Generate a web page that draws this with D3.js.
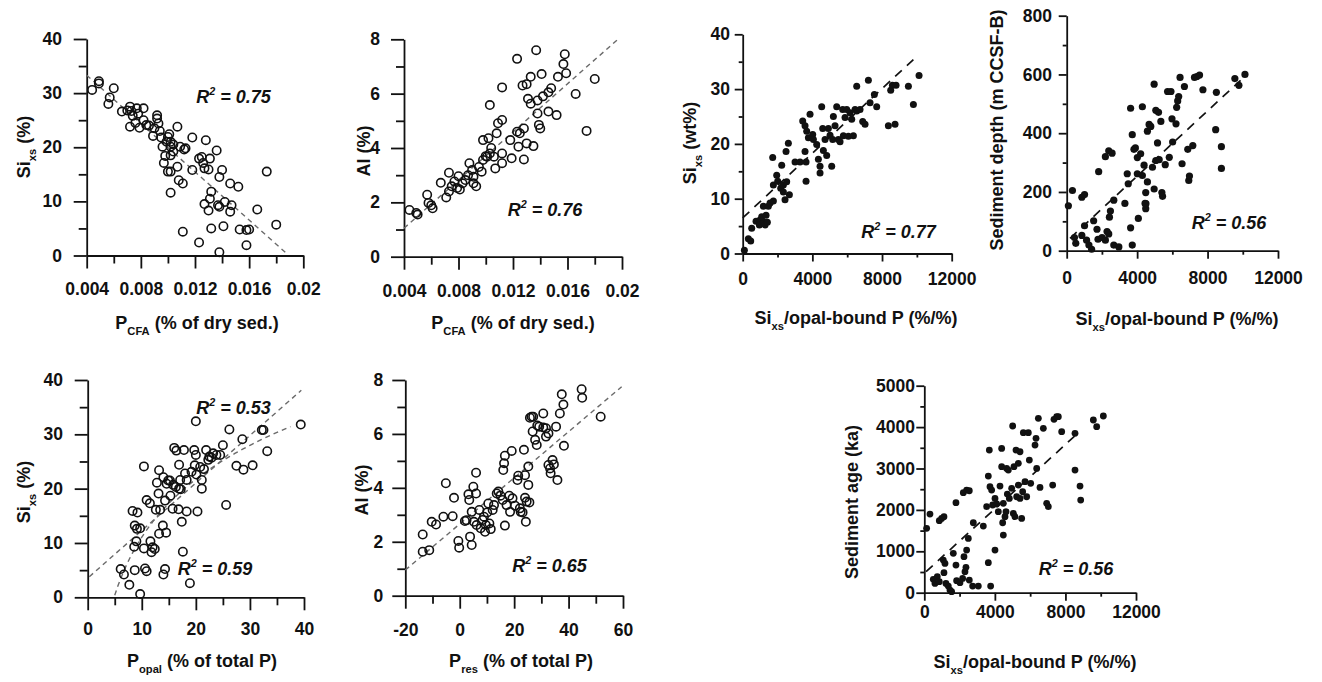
<!DOCTYPE html>
<html><head><meta charset="utf-8">
<script src="https://cdn.jsdelivr.net/npm/d3@7"></script>
<style>
body{margin:0;background:#fff}
svg{display:block}
text{font-family:"Liberation Sans",Arial,sans-serif;font-weight:bold;fill:#111}
</style>
</head><body>
<svg id="c" width="1322" height="682"></svg>
<script>
// ---------- DATA ----------
const p1Points=[[0.0044,30.6],[0.0049,32.2],[0.0049,31.8],[0.0060,30.9],[0.0057,29.2],[0.0056,28.0],[0.0066,26.6],[0.0072,27.5],[0.0073,26.7],[0.0074,25.8],[0.0072,23.8],[0.0077,27.2],[0.0078,26.2],[0.0079,23.6],[0.0082,27.2],[0.0082,25.0],[0.0084,24.1],[0.0092,25.9],[0.0092,25.3],[0.0093,24.4],[0.0090,23.5],[0.0089,22.1],[0.0095,21.8],[0.0096,20.1],[0.0097,17.1],[0.0100,21.9],[0.0102,21.0],[0.0102,20.1],[0.0102,18.5],[0.0100,15.5],[0.0102,15.5],[0.0107,23.8],[0.0107,16.4],[0.0109,20.1],[0.0113,19.8],[0.0108,13.9],[0.0111,13.3],[0.0102,11.6],[0.0118,21.8],[0.0118,15.8],[0.0123,17.9],[0.0125,18.2],[0.0127,16.1],[0.0128,21.3],[0.0131,17.9],[0.0136,19.4],[0.0140,15.8],[0.0138,14.5],[0.0146,13.3],[0.0152,12.7],[0.0173,15.5],[0.0132,11.8],[0.0131,10.5],[0.0127,9.5],[0.0130,8.3],[0.0137,9.3],[0.0142,9.9],[0.0147,9.3],[0.0146,8.1],[0.0166,8.5],[0.0132,5.0],[0.0141,5.4],[0.0153,4.8],[0.0158,4.7],[0.0160,4.8],[0.0180,5.7],[0.0111,4.4],[0.0123,2.4],[0.0158,1.9],[0.0138,0.6],[0.0099,21.0],[0.0104,19.2],[0.0098,18.4],[0.0070,26.8],[0.0076,24.5],[0.0086,24.0],[0.0094,23.0],[0.0101,22.4],[0.0104,20.5],[0.0112,19.6],[0.0126,17.1],[0.0130,15.9],[0.0138,9.0]];
const p2Points=[[0.0044,1.72],[0.0049,1.61],[0.0050,1.55],[0.0057,2.28],[0.0058,1.98],[0.0060,1.89],[0.0061,1.78],[0.0067,2.72],[0.0071,2.18],[0.0073,3.09],[0.0073,2.40],[0.0075,2.59],[0.0077,2.77],[0.0080,2.96],[0.0081,2.47],[0.0079,2.53],[0.0083,2.70],[0.0085,2.82],[0.0088,3.44],[0.0090,3.19],[0.0091,2.94],[0.0091,2.70],[0.0093,2.59],[0.0097,3.13],[0.0098,3.56],[0.0098,4.29],[0.0102,4.36],[0.0103,5.58],[0.0101,3.68],[0.0103,3.80],[0.0104,4.00],[0.0106,3.68],[0.0107,3.25],[0.0108,4.54],[0.0109,4.91],[0.0112,6.23],[0.0112,5.03],[0.0112,3.80],[0.0112,3.44],[0.0119,3.62],[0.0118,4.29],[0.0123,4.60],[0.0123,7.28],[0.0124,4.05],[0.0125,4.54],[0.0128,4.72],[0.0128,3.58],[0.0127,6.30],[0.0130,6.35],[0.0130,4.17],[0.0131,5.81],[0.0133,6.62],[0.0133,5.63],[0.0135,4.07],[0.0137,7.60],[0.0138,5.75],[0.0138,5.27],[0.0139,4.85],[0.0140,4.72],[0.0141,6.72],[0.0142,5.90],[0.0146,5.34],[0.0146,6.05],[0.0148,6.20],[0.0152,5.21],[0.0153,6.62],[0.0157,7.09],[0.0158,7.45],[0.0159,6.75],[0.0166,5.99],[0.0174,4.63],[0.0180,6.54],[0.0095,3.30],[0.0100,3.70],[0.0087,3.00]];
const p3Points=[[96,0.6],[325,2.7],[460,2.3],[517,4.6],[766,5.9],[995,6.1],[957,5.2],[1187,5.8],[1091,6.7],[1187,8.6],[1474,8.6],[1340,7.0],[1282,5.2],[1416,5.7],[1570,9.2],[1761,9.6],[1761,12.5],[1723,17.5],[1953,14.3],[2010,13.2],[2240,16.1],[2182,11.9],[2335,12.5],[2335,11.2],[2430,9.8],[2488,18.6],[2622,20.1],[2526,13.1],[2680,10.7],[3005,16.7],[3292,16.7],[3637,16.7],[3637,13.2],[3445,24.2],[3579,23.3],[3675,22.3],[3866,25.4],[3771,21.1],[3579,18.6],[4020,21.7],[4058,20.8],[4249,19.9],[4345,17.2],[4441,14.7],[4441,15.9],[4536,26.8],[4594,22.8],[4632,18.8],[4728,20.8],[4823,17.9],[4919,22.8],[5015,21.6],[5110,15.9],[5168,20.8],[5206,25.0],[5302,23.3],[5398,26.8],[5493,20.8],[5589,20.4],[5742,26.3],[5780,21.5],[5876,24.8],[5972,26.3],[6068,21.4],[6163,25.7],[6259,24.5],[6355,21.5],[6451,26.3],[6546,30.5],[6546,26.0],[6737,26.3],[6890,24.1],[7024,23.6],[7216,31.6],[7311,27.5],[7560,29.0],[7694,26.8],[8364,23.3],[8498,29.8],[8594,30.7],[8747,23.6],[8804,30.7],[9513,30.5],[9800,27.2],[10125,32.5]];
const p4Points=[[95,153],[325,205],[860,182],[1013,191],[440,45],[516,25],[860,52],[1013,85],[1128,36],[1262,19],[1415,5],[1530,102],[1720,73],[1778,39],[1815,269],[2006,45],[2197,36],[2292,65],[2388,57],[2426,114],[2483,135],[2197,320],[2388,340],[2578,332],[2674,172],[2674,19],[2961,13],[3305,161],[3438,262],[3495,228],[3629,78],[3629,485],[3724,395],[3724,19],[3820,345],[4011,317],[4011,262],[4068,110],[4297,490],[4297,256],[4393,291],[4450,161],[4488,198],[4488,143],[4584,234],[4584,407],[4679,430],[4775,423],[4870,284],[4966,210],[4966,567],[5061,307],[5061,478],[5157,367],[5214,471],[5252,310],[5348,440],[5405,198],[5443,185],[5596,293],[5730,542],[5826,318],[5921,542],[5979,449],[6016,370],[6207,432],[6245,488],[6303,510],[6360,525],[6437,590],[6551,296],[6685,559],[6876,345],[6933,239],[6971,254],[7162,358],[7258,590],[7392,593],[7545,598],[7736,548],[8500,539],[8460,412],[8786,354],[8786,280],[9550,586],[9780,563],[10124,600],[4200,330],[4500,160],[3900,350]];
const p5Points=[[6.1,5.2],[6.7,4.2],[7.7,2.3],[8.7,5.0],[9.7,0.6],[10.6,5.3],[10.9,4.8],[8.3,15.9],[9.2,15.6],[8.7,13.2],[9.1,12.6],[9.7,12.7],[8.6,9.3],[9.0,10.3],[10.4,9.0],[10.4,24.1],[10.9,17.9],[11.5,17.3],[11.6,10.3],[11.8,8.3],[12.0,9.2],[12.4,8.9],[12.6,16.1],[12.8,21.1],[13.1,19.1],[13.2,23.4],[13.2,11.7],[13.4,16.1],[13.9,13.2],[14.0,22.1],[14.3,17.8],[14.5,11.9],[14.3,5.2],[14.0,4.2],[14.6,20.9],[14.9,21.5],[15.2,21.5],[15.3,18.7],[15.8,20.7],[15.7,16.3],[16.0,27.5],[16.3,20.3],[16.4,27.0],[16.8,16.2],[16.9,20.0],[16.9,24.4],[17.1,21.6],[17.2,19.9],[17.4,13.9],[17.6,8.4],[17.8,27.1],[18.0,22.8],[18.3,15.8],[18.3,21.6],[18.9,2.6],[19.2,23.1],[19.7,27.1],[19.8,24.3],[20.0,32.4],[20.0,26.2],[20.1,22.6],[20.3,15.8],[20.8,24.0],[21.1,21.6],[21.1,20.0],[21.5,23.6],[21.9,27.1],[22.3,25.3],[22.5,25.9],[22.9,25.7],[23.2,26.5],[23.8,26.2],[24.5,26.2],[25.0,28.0],[25.6,17.0],[26.2,30.9],[27.5,24.2],[28.6,29.1],[28.8,23.5],[30.5,24.3],[32.2,30.8],[32.5,30.8],[33.2,26.9],[39.4,31.8]];
const p6Points=[[-13.6,2.27],[-13.6,1.63],[-11.2,1.69],[-10.3,2.74],[-8.7,2.64],[-6.0,2.93],[-5.1,4.17],[-2.6,2.95],[-2.1,3.63],[-0.5,2.03],[-0.2,1.78],[1.9,2.77],[2.5,2.80],[3.2,3.76],[3.5,3.55],[3.8,2.19],[4.4,1.88],[4.4,3.11],[5.0,4.04],[5.2,2.74],[6.0,4.56],[6.0,3.79],[6.2,2.62],[7.2,3.18],[7.7,2.50],[8.4,2.81],[8.9,2.93],[9.3,2.37],[9.6,2.62],[10.1,3.09],[10.5,3.42],[10.9,2.68],[11.4,2.47],[12.1,3.18],[12.6,3.36],[13.6,3.79],[14.2,3.86],[15.0,3.71],[15.8,3.55],[16.0,4.66],[16.3,4.91],[16.6,5.19],[16.6,2.60],[17.2,3.36],[18.2,3.71],[18.5,3.11],[19.1,5.37],[19.4,3.61],[20.3,3.34],[21.2,4.29],[21.5,4.45],[22.1,3.24],[22.4,3.11],[23.1,3.09],[23.6,5.41],[24.0,3.63],[24.0,4.47],[24.3,2.74],[24.6,3.49],[25.2,4.11],[25.2,4.79],[25.6,3.46],[25.8,6.60],[26.4,6.64],[26.8,6.09],[27.0,6.64],[27.7,5.78],[28.3,5.59],[28.5,6.31],[29.2,6.27],[30.7,6.76],[30.7,6.24],[31.7,6.21],[32.6,6.02],[31.7,5.90],[32.6,4.85],[33.2,4.72],[33.4,4.54],[34.1,5.03],[34.6,4.87],[35.4,6.27],[35.9,4.29],[36.8,6.76],[37.5,7.47],[38.1,7.09],[38.3,5.56],[44.8,7.66],[45.0,7.34],[51.8,6.64]];
const p7Points=[[132,1554],[321,1900],[850,1739],[983,1795],[1115,1836],[510,322],[605,225],[737,386],[850,266],[1077,789],[1172,708],[1115,483],[1228,225],[1361,161],[1455,64],[1550,24],[1644,950],[1795,668],[1833,290],[1795,2174],[2022,242],[2173,346],[2249,869],[2306,507],[2362,612],[2400,1030],[2495,1312],[2211,2415],[2400,2480],[2551,2463],[2551,306],[2778,1690],[2740,161],[3062,161],[3345,1610],[3534,2077],[3629,725],[3629,2818],[3686,3446],[3723,2560],[3761,161],[3818,2480],[3875,2118],[4007,2278],[4007,1030],[4102,2142],[4196,1956],[4291,2576],[4385,3486],[4385,3043],[4442,1690],[4480,2158],[4480,1393],[4574,1836],[4631,1956],[4669,3003],[4707,2383],[4763,2963],[4820,2278],[4952,2520],[5009,4026],[5047,1916],[5085,3043],[5141,1836],[5198,3446],[5236,2318],[5330,3124],[5330,2600],[5425,3405],[5425,2278],[5519,1795],[5576,2439],[5614,3865],[5708,2681],[5803,2318],[5897,3865],[5954,3204],[6030,2641],[6276,3567],[6333,3728],[6370,3003],[6465,4211],[6559,2544],[6748,3970],[6937,2158],[7031,2077],[7277,2600],[7353,4187],[7504,4252],[7598,4252],[7787,3889],[8543,3849],[8543,2963],[8827,2576],[8865,2238],[9582,4171],[9771,4010],[10149,4268]];

// fitted lines: endpoints [x,y] in data units
const p1Fit=[[0.004,33.3],[0.0188,0.3]];
const p2Fit=[[0.004,1.05],[0.0197,8.0]];
const p3Fit=[[0,6.5],[9800,35.4]];
const p4Fit=[[190,42],[9875,580]];
const p5FitLinear=[[0.3,3.8],[39.5,38.1]];
const p5FitLog=[15.4,-24.4,5.0,37.5]; // a*ln(x)+b, x from..to
const p6Fit=[[-20,0.95],[59.5,7.75]];
const p7Fit=[[100,510],[8800,3890]];

// tick labels
const tickP=[0.004,0.008,0.012,0.016,0.02];
const tickSi=[0,10,20,30,40];
const tickAl=[0,2,4,6,8];
const tickRatio=[0,4000,8000,12000];
const tickDepth=[0,200,400,600,800];
const tickOpal=[0,10,20,30,40];
const tickRes=[-20,0,20,40,60];
const tickAge=[0,1000,2000,3000,4000,5000];

const r2Labels=["0.75","0.76","0.77","0.56","0.53","0.59","0.65","0.56"];

// ---------- LAYOUT ----------
const svg=d3.select("#c");
const FS_TICK=17.5, FS_TITLE=18, FS_R2=18;

function rich(sel,parts,size){
  let prev="";
  parts.forEach(([t,k])=>{
    const ts=sel.append("tspan").text(t);
    let dy=0;
    if(prev==="sub") dy-=size*0.32;
    if(prev==="sup") dy+=size*0.42;
    if(k==="sub"){ts.attr("font-size",size*0.62);dy+=size*0.32;}
    else if(k==="sup"){ts.attr("font-size",size*0.6);dy-=size*0.42;}
    if(dy) ts.attr("dy",dy);
    prev=k||"";
  });
}

const gray={stroke:"#6a6a6a",width:1.4,dash:"5,4"};
const blk={stroke:"#111",width:1.7,dash:"9,7"};

const panels=[
 {pts:p1Points,open:true,xd:[0.004,0.02],yd:[0,40],xr:[86.7,303.3],yr:[255.5,39],xt:tickP,xm:0.002,yt:tickSi,ym:5,
  big:true,xpad:14.5,ypad:11.7,fmtX:v=>String(+v.toFixed(3)),
  xtitle:[["P"],["CFA","sub"],[" (% of dry sed.)"]],xtx:197,xty:329,
  ytitle:[["Si"],["xs","sub"],[" (%)"]],ytx:30,yty:147,
  fits:[p1Fit],style:gray,r2:[[r2Labels[0],233.5,103]]},
 {pts:p2Points,open:true,xd:[0.004,0.02],yd:[0,8],xr:[404,622],yr:[256.7,39.3],xt:tickP,xm:0.002,yt:tickAl,ym:1,
  big:true,xpad:14.5,ypad:11,fmtX:v=>String(+v.toFixed(3)),
  xtitle:[["P"],["CFA","sub"],[" (% of dry sed.)"]],xtx:513,xty:329,
  ytitle:[["Al (%)"]],ytx:370,yty:151,
  fits:[p2Fit],style:gray,r2:[[r2Labels[1],545,216]]},
 {pts:p3Points,open:false,rad:3.5,xd:[0,12000],yd:[0,40],xr:[742.7,951.7],yr:[253.5,34.3],xt:tickRatio,xm:2000,yt:tickSi,ym:5,
  big:false,xpad:11,ypad:4.7,
  xtitle:[["Si"],["xs","sub"],["/opal-bound P (%/%)"]],xtx:856,xty:324,
  ytitle:[["Si"],["xs","sub"],[" (wt%)"]],ytx:696,yty:143,
  fits:[p3Fit],style:blk,r2:[[r2Labels[2],898.5,238]]},
 {pts:p4Points,open:false,rad:3.6,xd:[0,12000],yd:[0,800],xr:[1066.7,1278],yr:[250.7,15.7],xt:tickRatio,xm:2000,yt:tickDepth,ym:100,
  big:false,xpad:12.8,ypad:6.7,
  xtitle:[["Si"],["xs","sub"],["/opal-bound P (%/%)"]],xtx:1177,xty:325,
  ytitle:[["Sediment depth (m CCSF-B)"]],ytx:1003,yty:130,
  fits:[p4Fit],style:blk,r2:[[r2Labels[3],1229,229]]},
 {pts:p5Points,open:true,xd:[0,40],yd:[0,40],xr:[87.7,304],yr:[597.3,380],xt:tickOpal,xm:5,yt:tickSi,ym:5,
  big:true,xpad:12.2,ypad:11.7,
  xtitle:[["P"],["opal","sub"],[" (% of total P)"]],xtx:202,xty:667,
  ytitle:[["Si"],["xs","sub"],[" (%)"]],ytx:30,yty:492,
  fits:[p5FitLinear],log:p5FitLog,style:gray,r2:[[r2Labels[4],233.5,414],[r2Labels[5],215,575]]},
 {pts:p6Points,open:true,xd:[-20,60],yd:[0,8],xr:[405.3,623],yr:[595.7,380],xt:tickRes,xm:10,yt:tickAl,ym:1,
  big:true,xpad:14.8,ypad:9,
  xtitle:[["P"],["res","sub"],[" (% of total P)"]],xtx:521,xty:667,
  ytitle:[["Al (%)"]],ytx:368,yty:490,
  fits:[p6Fit],style:gray,r2:[[r2Labels[6],549.5,572]]},
 {pts:p7Points,open:false,rad:3.4,xd:[0,12000],yd:[0,5000],xr:[924.3,1136],yr:[592.7,385.7],xt:tickRatio,xm:2000,yt:tickAge,ym:500,
  big:false,xpad:5,ypad:1.3,
  xtitle:[["Si"],["xs","sub"],["/opal-bound P (%/%)"]],xtx:1035,xty:668,
  ytitle:[["Sediment age (ka)"]],ytx:858,yty:502,
  fits:[p7Fit],style:blk,r2:[[r2Labels[7],1076,575]]}
];

panels.forEach(p=>{
  const x=d3.scaleLinear().domain(p.xd).range(p.xr);
  const y=d3.scaleLinear().domain(p.yd).range(p.yr);
  const g=svg.append("g");
  const T=p.big?13:8, t=p.big?8:4;
  const x0=p.xr[0], y0=p.yr[0];
  const stepsX=Math.round((p.xd[1]-p.xd[0])/p.xm);
  const minorX=d3.range(stepsX+1).map(i=>p.xd[0]+i*p.xm).filter(v=>!p.xt.some(m=>Math.abs(m-v)<1e-9));
  const stepsY=Math.round((p.yd[1]-p.yd[0])/p.ym);
  const minorY=d3.range(stepsY+1).map(i=>p.yd[0]+i*p.ym).filter(v=>!p.yt.some(m=>Math.abs(m-v)<1e-9));

  // minor ticks
  g.append("g").attr("transform",`translate(0,${y0})`)
    .call(d3.axisBottom(x).tickValues(minorX).tickSize(t).tickFormat(""))
    .call(a=>a.select(".domain").remove());
  g.append("g").attr("transform",`translate(${x0},0)`)
    .call(d3.axisLeft(y).tickValues(minorY).tickSize(t).tickFormat(""))
    .call(a=>a.select(".domain").remove());
  // major
  const ax=g.append("g").attr("transform",`translate(0,${y0})`)
    .call(d3.axisBottom(x).tickValues(p.xt).tickSize(T).tickSizeOuter(0).tickPadding(p.xpad).tickFormat(p.fmtX||(v=>String(v))));
  const ay=g.append("g").attr("transform",`translate(${x0},0)`)
    .call(d3.axisLeft(y).tickValues(p.yt).tickSize(T).tickSizeOuter(0).tickPadding(p.ypad).tickFormat(v=>String(v)));
  g.selectAll(".tick line,.domain").attr("stroke","#111").attr("stroke-width",1.8);
  g.selectAll(".tick text").attr("font-size",FS_TICK).attr("font-family",null).attr("fill","#111");
  [ax,ay].forEach(a=>a.attr("font-family",null).attr("font-size",null));

  // fit lines
  const line=d3.line().x(d=>x(d[0])).y(d=>y(d[1]));
  p.fits.forEach(f=>{
    g.append("path").attr("d",line(f)).attr("fill","none")
      .attr("stroke",p.style.stroke).attr("stroke-width",p.style.width).attr("stroke-dasharray",p.style.dash);
  });
  if(p.log){
    const [a,b,from,to]=p.log;
    const curve=d3.range(0,61).map(i=>{const xv=from+(to-from)*i/60;return [xv,a*Math.log(xv)+b];});
    g.append("path").attr("d",line(curve)).attr("fill","none")
      .attr("stroke",p.style.stroke).attr("stroke-width",p.style.width).attr("stroke-dasharray",p.style.dash);
  }

  // points
  g.append("g").selectAll("circle").data(p.pts).join("circle")
    .attr("cx",d=>x(d[0])).attr("cy",d=>y(d[1]))
    .attr("r",p.open?4.2:p.rad)
    .attr("fill",p.open?"none":"#111")
    .attr("stroke",p.open?"#111":"none")
    .attr("stroke-width",p.open?1.6:0);

  // titles
  const xt=g.append("text").attr("x",p.xtx).attr("y",p.xty).attr("text-anchor","middle").attr("font-size",FS_TITLE);
  rich(xt,p.xtitle,FS_TITLE);
  const yt=g.append("text").attr("transform",`translate(${p.ytx},${p.yty}) rotate(-90)`).attr("text-anchor","middle").attr("font-size",FS_TITLE);
  rich(yt,p.ytitle,FS_TITLE);

  // R2
  p.r2.forEach(([v,cx,by])=>{
    const tx=g.append("text").attr("x",cx).attr("y",by).attr("text-anchor","middle")
      .attr("font-size",FS_R2).attr("font-style","italic");
    rich(tx,[["R"],["2","sup"],[" = "+v]],FS_R2);
  });
});
</script>
</body></html>
